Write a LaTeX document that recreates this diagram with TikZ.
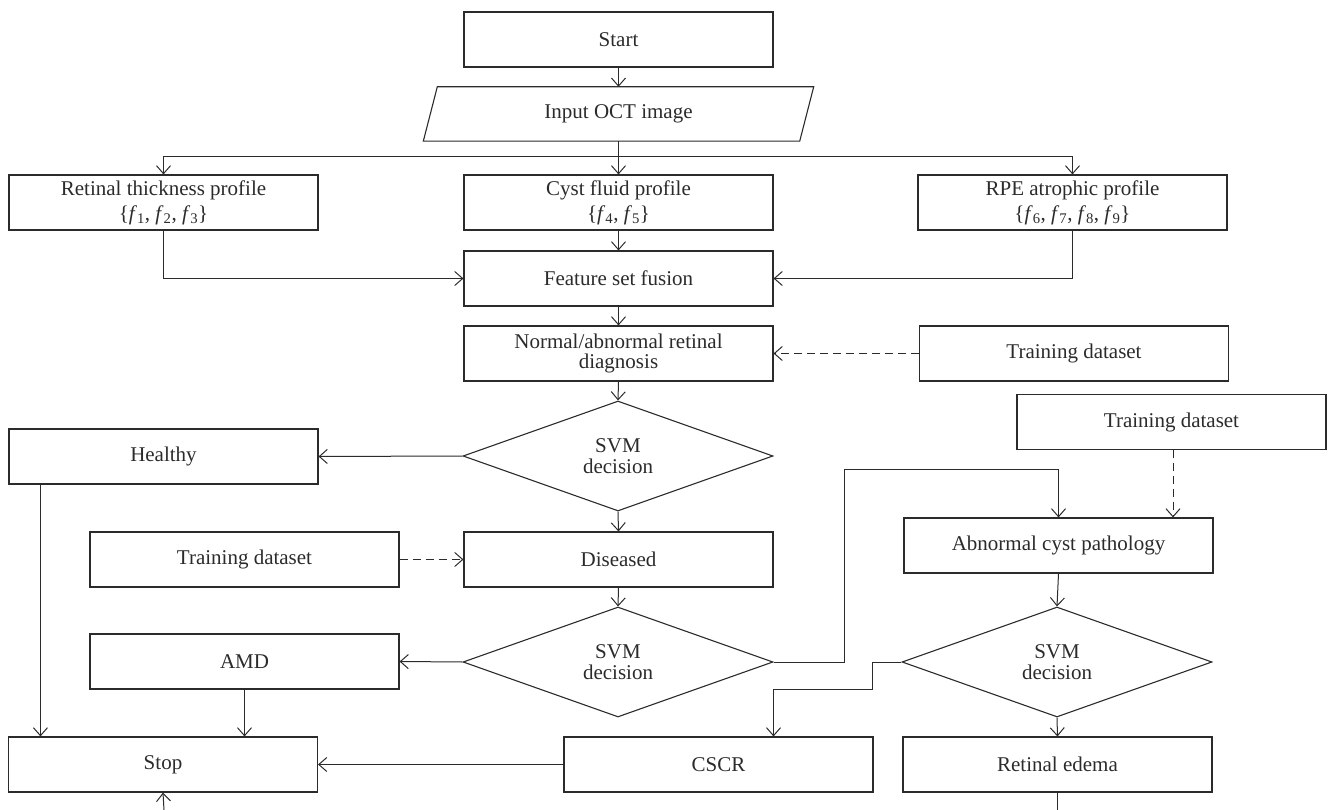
\documentclass[tikz,border=0pt]{standalone}
\usepackage{fontspec}
\setmainfont{Liberation Serif}
\usetikzlibrary{arrows.meta,shapes.geometric,calc}
\definecolor{lc}{HTML}{2B2B2B}
\begin{document}
\begin{tikzpicture}[x=1pt,y=-1pt,
  every node/.style={font=\fontsize{21}{22}\selectfont, text=lc},
  box/.style={draw=lc, line width=1.1pt, minimum width=309pt, minimum height=55pt, inner sep=1pt, align=center},
  dia/.style={draw=lc, line width=1.1pt, diamond, minimum width=310pt, minimum height=110pt, inner sep=0pt, align=center},
  arr/.style={draw=lc, line width=1pt, -{Straight Barb[length=8pt,width=14pt]}},
  darr/.style={arr, dash pattern=on 8pt off 5pt},
  ln/.style={draw=lc, line width=1pt}]
\useasboundingbox (0,0) rectangle (1328,810);

\node[box] (start) at (618.5,39.5) {Start};
\node[minimum width=376pt, minimum height=54pt, inner sep=0pt] (input) at (618.5,114) {Input OCT image};
\draw[lc, line width=1.1pt] ($(input.south west)+(-7,0)$) -- ($(input.north west)+(7,0)$) -- ($(input.north east)+(7,0)$) -- ($(input.south east)+(-7,0)$) -- cycle;

\node[box] (rtp) at (163.5,202.5) {Retinal thickness profile\\[3pt]\{\textit{f}\textsubscript{1}, \textit{f}\textsubscript{2}, \textit{f}\textsubscript{3}\}};
\node[box] (cfp) at (618.5,202.5) {Cyst fluid profile\\[3pt]\{\textit{f}\textsubscript{4}, \textit{f}\textsubscript{5}\}};
\node[box] (rpe) at (1072.5,202.5) {RPE atrophic profile\\[3pt]\{\textit{f}\textsubscript{6}, \textit{f}\textsubscript{7}, \textit{f}\textsubscript{8}, \textit{f}\textsubscript{9}\}};
\node[box] (fusion) at (618.5,278.5) {Feature set fusion};
\node[box, font=\fontsize{21}{20}\selectfont] (nad) at (618.5,353.5) {Normal/abnormal retinal\\diagnosis};
\node[box] (td1) at (1074,353.5) {Training dataset};
\node[dia, font=\fontsize{21}{21}\selectfont] (svm1) at (618,456) {SVM\\decision};
\node[box] (healthy) at (163.5,456.5) {Healthy};
\node[box] (td2) at (1171.5,422) {Training dataset};
\node[box] (diseased) at (618.5,559.5) {Diseased};
\node[box] (td3) at (244.5,559.5) {Training dataset};
\node[box] (acp) at (1058.5,545.5) {Abnormal cyst pathology};
\node[dia, font=\fontsize{21}{21}\selectfont] (svm2) at (618,662) {SVM\\decision};
\node[dia, font=\fontsize{21}{21}\selectfont] (svm3) at (1057,662) {SVM\\decision};
\node[box] (amd) at (244.5,661.5) {AMD};
\node[box] (stop) at (163,764.5) {Stop};
\node[box] (cscr) at (718.5,764.5) {CSCR};
\node[box] (edema) at (1057.5,764.5) {Retinal edema};

\coordinate (br) at ($(input.south)+(0,15)$);
\coordinate (e1) at (1057.5,810);
\coordinate (s1) at (164,810);
\coordinate (t2) at ($(td2.south)+(1.5,0)$);
\coordinate (k2) at ($(acp.north)+(0,-48)$);
\coordinate (c2) at ($(cscr.north)+(55,0)$);
\coordinate (h1) at ($(healthy.south west)+(32,0)$);

\draw[arr] (start.south) -- (input.north);
\draw[arr] (input.south) -- (cfp.north);
\draw[arr] (br) -| (rtp.north);
\draw[arr] (br) -| (rpe.north);
\draw[arr] (rtp.south) |- (fusion.west);
\draw[arr] (rpe.south) |- (fusion.east);
\draw[arr] (cfp.south) -- (fusion.north);
\draw[arr] (fusion.south) -- (nad.north);
\draw[darr] (td1.west) -- (nad.east);
\draw[arr] (nad.south) -- (svm1.north);
\draw[arr] (svm1.west) -- (healthy.east);
\draw[arr] (svm1.south) -- (diseased.north);
\draw[darr] (td3.east) -- (diseased.west);
\draw[arr] (diseased.south) -- (svm2.north);
\draw[arr] (svm2.west) -- (amd.east);
\draw[arr] (svm2.east) -- ++(71,0) |- (k2) -- (acp.north);
\draw[darr] (t2) -- (t2 |- acp.north);
\draw[arr] (acp.south) -- (svm3.north);
\draw[arr] (svm3.south) -- (edema.north);
\draw[arr] (svm3.west) -- ++(-29,0) -- ++(0,27) -| (c2);
\draw[arr] (amd.south) -- (amd.south |- stop.north);
\draw[arr] (h1) -- (h1 |- stop.north);
\draw[arr] (cscr.west) -- (stop.east);
\draw[ln] (edema.south) -- (e1);
\draw[arr] (s1) -- (stop.south);
\end{tikzpicture}
\end{document}
